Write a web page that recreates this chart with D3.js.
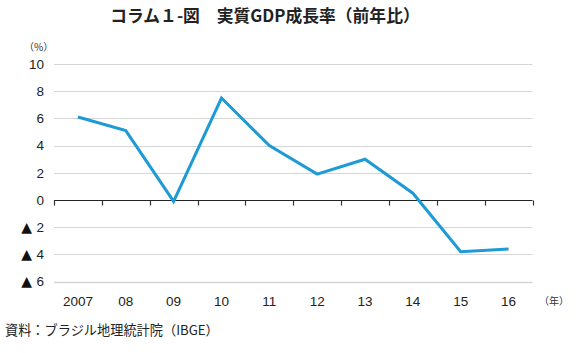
<!DOCTYPE html>
<html><head><meta charset="utf-8">
<script src="https://cdn.jsdelivr.net/npm/d3@7"></script>
<style>
html,body{margin:0;padding:0;background:#fff;}
text{font-family:"Noto Sans CJK JP","Noto Sans",sans-serif;}
</style></head>
<body><svg id="c" width="580" height="353"></svg>
<script>
const years = ["2007","08","09","10","11","12","13","14","15","16"];
const growth = [6.1, 5.1, -0.1, 7.5, 4.0, 1.9, 3.0, 0.5, -3.8, -3.6];
const yTicks = [10, 8, 6, 4, 2, 0, -2, -4, -6];
const titleText = "コラム１-図　実質GDP成長率（前年比）";
const unitY = "（%）";
const unitX = "（年）";
const sourceText = "資料：ブラジル地理統計院（IBGE）";

const svg = d3.select("#c");
const L = 54, R = 532.5, T = 64, B = 281.6;
const x = d3.scaleBand().domain(years).range([L, R]);
const y = d3.scaleLinear().domain([-6, 10]).range([B, T]);

// gridlines
svg.append("g").selectAll("line").data(yTicks.filter(d => d !== 0)).join("line")
  .attr("x1", L).attr("x2", R)
  .attr("y1", d => Math.round(y(d)) + 0.5).attr("y2", d => Math.round(y(d)) + 0.5)
  .attr("stroke", "#d6d6d6").attr("stroke-width", d => d === -6 ? 1.6 : 1.2);

// y labels
const yl = svg.append("g").selectAll("text").data(yTicks).join("text")
  .attr("x", 44).attr("y", d => y(d)).attr("dy", "0.36em")
  .attr("text-anchor", "end").attr("font-size", 13.5).attr("fill", "#222")
  .style("font-family", "'Liberation Sans',Arial,sans-serif");
yl.filter(d => d < 0).append("tspan")
  .style("font-family", "'DejaVu Sans',sans-serif").attr("font-size", 14).attr("fill", "#111")
  .text("▲ ");
yl.append("tspan").text(d => String(Math.abs(d)));

// zero axis with ticks
const zero = Math.round(y(0)) + 0.5;
svg.append("line").attr("x1", L).attr("x2", R).attr("y1", zero).attr("y2", zero)
  .attr("stroke", "#222").attr("stroke-width", 1.2);
const tickPos = years.map(d => x(d)).concat([R]);
svg.append("g").selectAll("line").data(tickPos).join("line")
  .attr("x1", d => Math.round(d) + 0.5).attr("x2", d => Math.round(d) + 0.5)
  .attr("y1", zero).attr("y2", zero + 5)
  .attr("stroke", "#333").attr("stroke-width", 1.2);

// line
const line = d3.line().x((d, i) => x(years[i]) + x.bandwidth() / 2).y(d => y(d));
svg.append("path").datum(growth).attr("d", line)
  .attr("fill", "none").attr("stroke", "#1e9ad6").attr("stroke-width", 3)
  .attr("stroke-linejoin", "miter");

// x labels
svg.append("g").selectAll("text").data(years).join("text")
  .attr("x", d => x(d) + x.bandwidth() / 2).attr("y", 306)
  .attr("text-anchor", "middle").attr("font-size", 13.5).attr("fill", "#222")
  .style("font-family", "'Liberation Sans',Arial,sans-serif")
  .text(d => d);

svg.append("text").attr("x", 539).attr("y", 305).attr("font-size", 10).attr("fill", "#333").text(unitX);
svg.append("text").attr("x", 24).attr("y", 51).attr("font-size", 10).attr("fill", "#333").text(unitY);

svg.append("text").attr("x", 265).attr("y", 22).attr("text-anchor", "middle")
  .attr("font-size", 16.8).attr("font-weight", "bold").attr("fill", "#222").text(titleText);

svg.append("text").attr("x", 5).attr("y", 335).attr("font-size", 13.2).attr("fill", "#222").text(sourceText);
</script></body></html>
